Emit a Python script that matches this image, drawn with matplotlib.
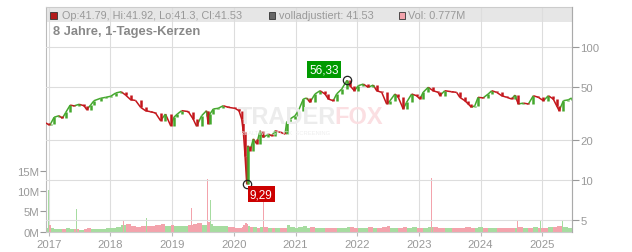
import numpy as np
import pandas as pd
import matplotlib
matplotlib.use('Agg')
import matplotlib.pyplot as plt
import matplotlib.dates as mdates
from matplotlib.patches import Rectangle
from matplotlib.collections import LineCollection
from matplotlib.ticker import NullLocator

plt.rcParams['font.family'] = ['Liberation Sans', 'DejaVu Sans']

# price samples (close values)
dates = [
    "2016-12-16", "2017-01-02", "2017-01-13", "2017-02-02", "2017-03-03", "2017-03-23", "2017-04-12", "2017-05-08",
    "2017-05-31", "2017-06-30", "2017-07-29", "2017-08-14", "2017-09-06", "2017-09-26", "2017-11-04", "2017-12-04",
    "2018-01-03", "2018-02-02", "2018-03-06", "2018-04-01", "2018-05-01", "2018-05-30", "2018-06-29", "2018-07-28",
    "2018-08-27", "2018-09-25", "2018-10-25", "2018-11-23", "2018-12-24",
    "2019-01-12", "2019-02-01", "2019-02-27", "2019-04-07", "2019-05-06", "2019-05-26", "2019-06-25", "2019-07-24",
    "2019-08-03", "2019-08-13", "2019-09-02", "2019-10-01", "2019-10-31", "2019-11-30",
    "2020-01-08", "2020-02-01", "2020-02-17", "2020-02-27", "2020-03-08", "2020-03-18", "2020-03-24", "2020-04-07",
    "2020-04-26", "2020-05-16", "2020-06-05", "2020-06-24", "2020-07-24", "2020-08-13", "2020-09-02", "2020-10-01",
    "2020-10-31", "2020-11-09", "2020-11-29", "2020-12-29",
    "2021-01-18", "2021-02-16", "2021-03-08", "2021-03-27", "2021-04-26", "2021-05-26", "2021-06-24", "2021-07-14",
    "2021-08-12", "2021-09-01", "2021-10-01", "2021-11-01", "2021-11-19", "2021-12-15",
    "2022-01-07", "2022-02-06", "2022-03-07", "2022-04-06", "2022-04-26", "2022-05-26", "2022-06-24", "2022-07-14",
    "2022-08-12", "2022-09-01", "2022-09-30", "2022-10-20", "2022-11-19", "2022-12-18",
    "2023-01-07", "2023-01-26", "2023-02-25", "2023-03-26", "2023-04-25", "2023-05-05", "2023-06-03", "2023-07-13",
    "2023-08-12", "2023-08-31", "2023-09-30", "2023-10-20", "2023-11-08", "2023-11-28", "2023-12-17",
    "2024-01-16", "2024-02-15", "2024-03-07", "2024-04-05", "2024-05-05", "2024-06-04", "2024-07-03", "2024-07-22",
    "2024-08-11", "2024-09-10", "2024-10-10", "2024-11-08", "2024-12-08",
    "2025-01-07", "2025-02-05", "2025-03-06", "2025-03-26", "2025-04-10", "2025-05-05", "2025-06-03", "2025-06-23",
]
closes = [
    26.9, 26.0, 26.6, 29.7, 30.5, 29.2, 32.3, 36.7, 36.2, 37.2, 36.3, 33.9, 36.7, 39.6, 41.3, 42.0,
    42.8, 45.3, 46.3, 43.7, 40.3, 39.8, 35.3, 33.3, 32.7, 32.0, 28.0, 31.4, 25.6,
    29.7, 31.4, 33.3, 32.8, 28.8, 25.4, 30.5, 33.3, 26.4, 31.4, 34.3, 34.7, 36.3, 35.3,
    34.7, 33.3, 28.8, 23.0, 15.2, 9.29, 18.1, 16.6, 20.4, 18.7, 23.5, 20.9, 22.2, 21.5, 23.5, 22.9,
    22.2, 27.2, 28.8, 30.5,
    33.3, 40.8, 41.5, 38.5, 44.5, 47.1, 44.5, 40.8, 39.6, 44.5, 48.5, 56.33, 51.4, 47.1,
    51.4, 52.9, 50.0, 52.0, 47.1, 45.8, 37.4, 39.6, 44.5, 42.0, 34.3, 38.5, 44.5, 43.2,
    40.8, 45.8, 50.0, 47.1, 45.8, 43.2, 47.1, 46.3, 45.8, 42.0, 39.6, 37.4, 35.3, 36.3, 42.0,
    41.6, 44.5, 47.1, 45.8, 43.2, 42.0, 40.8, 43.7, 37.4, 38.0, 37.4, 43.2, 42.0,
    39.6, 43.2, 40.8, 36.3, 33.3, 39.6, 40.2, 41.53,
]
# volume in millions at the same dates
volumes = [
    0.9, 1.6, 0.8, 0.7, 0.6, 0.7, 0.8, 0.7, 0.6, 0.5, 0.6, 0.8, 0.6, 0.7, 0.6, 0.9,
    1.0, 1.2, 1.6, 1.8, 1.3, 1.2, 1.5, 1.4, 1.3, 1.6, 1.8, 1.4, 1.7,
    1.5, 1.3, 1.4, 1.6, 2.0, 2.2, 1.6, 1.5, 2.4, 1.9, 1.5, 1.4, 1.3, 1.2,
    1.0, 0.9, 1.2, 1.6, 2.1, 1.8, 1.5, 1.2, 1.1, 1.0, 1.2, 1.1, 0.9, 0.8, 1.0, 0.9,
    1.0, 1.7, 1.2, 1.0,
    1.1, 1.3, 1.0, 1.2, 1.0, 0.9, 1.0, 0.8, 0.9, 0.8, 1.0, 1.2, 1.1, 0.9,
    0.9, 1.0, 1.1, 0.8, 1.0, 1.2, 1.3, 0.9, 0.8, 0.9, 1.2, 1.0, 1.1, 0.8,
    0.9, 1.0, 1.2, 1.1, 0.9, 0.8, 0.9, 0.8, 0.9, 1.0, 1.1, 1.2, 1.0, 0.9, 1.1,
    0.9, 1.0, 0.9, 0.8, 0.9, 0.8, 0.9, 1.0, 1.2, 0.9, 1.0, 1.1, 0.9,
    1.0, 1.1, 1.2, 1.4, 1.5, 1.1, 0.9, 0.78,
]
# single-day volume spikes
spike_dates = ["2016-12-30", "2017-01-04", "2017-06-16", "2018-03-12", "2018-03-19", "2018-04-27", "2018-08-03",
               "2019-04-26", "2019-05-22", "2019-05-28", "2019-07-29", "2019-08-16", "2019-10-07", "2020-06-24",
               "2020-10-20", "2022-05-05", "2022-11-22", "2023-03-03", "2023-03-15", "2023-07-28", "2023-11-04",
               "2024-02-01", "2024-08-05", "2024-11-23", "2024-12-22", "2025-04-29"]
spike_vols = [10.2, 6.3, 5.5, 12.2, 2.8, 3.5, 3.3, 5.8, 4.6, 4.7, 12.9, 7.9, 5.8, 10.0, 3.7, 2.9, 4.6, 3.3,
              13.2, 2.7, 3.3, 3.4, 2.8, 3.4, 2.8, 2.7]
spike_up = [True, False, True, False, False, False, True, False, False, True, False, True, True, False, True,
            True, False, True, False, False, True, False, False, False, True, True]

high_date, high_val = "2021-11-01", 56.33
low_date, low_val = "2020-03-18", 9.29
years = list(range(2017, 2026))
price_ticks = [5, 10, 20, 50, 100]
vol_ticks = [0, 5, 10, 15]

UP, DOWN = '#45a82e', '#c4161c'
VUP, VDOWN = '#a6dca0', '#f3a3ac'
GRID = '#dddddd'
TXT = '#999999'

x = mdates.date2num(pd.to_datetime(dates))
c = np.array(closes)
up = np.r_[True, c[1:] >= c[:-1]]
opens = np.r_[c[0], c[:-1]]

fig = plt.figure(figsize=(6.32, 2.53), dpi=100)
W, H = 632, 253
ax = fig.add_axes([46 / W, 20 / H, 526 / W, 225 / H])

# volume
widths = np.r_[np.diff(x), 20]
ax.bar(x, volumes, width=widths, align='edge', color=[VUP if u else VDOWN for u in up], lw=0, zorder=2)
sx = mdates.date2num(pd.to_datetime(spike_dates))
ax.bar(sx, spike_vols, width=3, color=[VUP if u else VDOWN for u in spike_up], lw=0, zorder=2)
ax.set_ylim(-0.07, 55.2)
ax.set_xlim(mdates.date2num(pd.Timestamp("2016-12-16")), mdates.date2num(pd.Timestamp("2025-06-25")))
ax.set_yticks(vol_ticks)
ax.set_yticklabels([f"{v}M" for v in vol_ticks])
ax.set_xticks(mdates.date2num([pd.Timestamp(f"{y}-01-01") for y in years]))
ax.set_xticklabels([str(y) for y in years])
ax.grid(axis='x', color=GRID, lw=0.8)
ax.tick_params(axis='y', length=4, color='#999999', labelcolor=TXT, labelsize=8.2, pad=1)
ax.tick_params(axis='x', length=3, color='#bbbbbb', labelcolor=TXT, labelsize=8.2, pad=2)
for s in ax.spines.values():
    s.set_color('#cccccc')
    s.set_linewidth(0.8)
ax.spines['left'].set_color('#bbbbbb')

# header band
ax.add_patch(Rectangle((0, 1 - 14.7 / 225), 1, 14.7 / 225, transform=ax.transAxes,
                       facecolor='#e6e6e6', lw=0, zorder=0.5))

# watermark (behind the price line)
fig.text(238 / W, 1 - 124 / H, "TRADER", color='#ececec', fontsize=17, fontweight='bold', va='baseline')
fig.text(334 / W, 1 - 124 / H, "FOX", color='#fbdfe2', fontsize=17, fontweight='bold', va='baseline')
fig.text(240 / W, 1 - 131 / H, "REALTIME  STOCK  SCREENING", color='#eeeeee', fontsize=4.2, va='top')

# price
ax2 = ax.twinx()
ax2.set_yscale('log')
ax2.set_ylim(4.04, 202)
ax2.set_yticks(price_ticks)
ax2.set_yticklabels([str(p) for p in price_ticks])
ax2.yaxis.set_minor_locator(NullLocator())
ax2.grid(axis='y', color=GRID, lw=0.8)
ax2.tick_params(axis='y', length=5, color='#999999', labelcolor=TXT, labelsize=8.2, pad=1)
for s in ax2.spines.values():
    s.set_visible(False)
ax2.spines['right'].set_visible(True)
ax2.spines['right'].set_color('#aaaaaa')

cols = [UP if u else DOWN for u in up]
pts = np.column_stack([x, c])
segs = np.stack([pts[:-1], pts[1:]], axis=1)
ax2.add_collection(LineCollection(segs, colors=cols[1:], lw=1.1, zorder=3))
ax2.vlines(x, np.minimum(opens, c), np.maximum(opens, c), colors=cols, lw=1.8, zorder=3)

hx = mdates.date2num(pd.Timestamp(high_date))
lx = mdates.date2num(pd.Timestamp(low_date))
ax2.plot([hx, lx], [high_val, low_val], 'o', mfc='none', mec='#222222', ms=6, mew=0.9, zorder=4)
ax2.annotate(f"{high_val:.2f}".replace('.', ','), xy=(hx, high_val), xytext=(-16.6, 7.9),
             textcoords='offset points', ha='center', va='center', color='white', fontsize=8.5, zorder=5,
             bbox=dict(boxstyle='square,pad=0.18', fc='#009a00', ec='none'))
ax2.annotate(f"{low_val:.2f}".replace('.', ','), xy=(lx, low_val), xytext=(10.4, -7.2),
             textcoords='offset points', ha='center', va='center', color='white', fontsize=8.5, zorder=5,
             bbox=dict(boxstyle='square,pad=0.18', fc='#cc0000', ec='none'))


# header
def square(x0, color):
    fig.add_artist(Rectangle((x0 / W, 1 - 19.5 / H), 6.5 / W, 6.5 / H, transform=fig.transFigure,
                             facecolor=color, edgecolor='#333333', lw=0.6))


square(50, '#b31b1b')
fig.text(62 / W, 1 - 16 / H, "Op:41.79, Hi:41.92, Lo:41.3, Cl:41.53", color=TXT, fontsize=7.8, va='center')
square(268.5, '#666666')
fig.text(279 / W, 1 - 16 / H, "volladjustiert: 41.53", color=TXT, fontsize=7.8, va='center')
square(399, '#f3a3ac')
fig.text(408.5 / W, 1 - 16 / H, "Vol: 0.777M", color=TXT, fontsize=7.8, va='center')
fig.text(53 / W, 1 - 32.5 / H, "8 Jahre, 1-Tages-Kerzen", color='#888888', fontsize=9.3, fontweight='bold',
         va='center')

fig.savefig("out.png", dpi=100)
